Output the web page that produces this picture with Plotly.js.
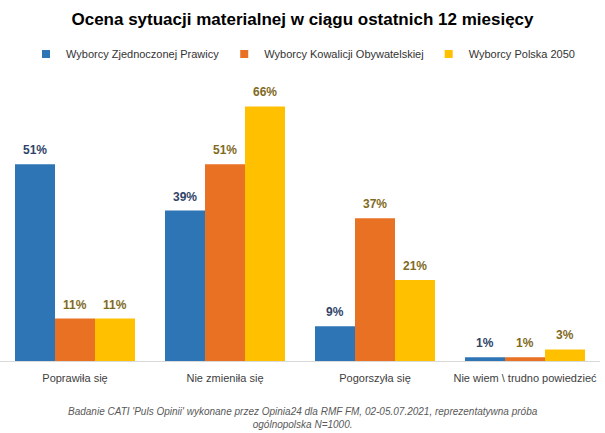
<!DOCTYPE html>
<html><head><meta charset="utf-8">
<script src="https://cdn.plot.ly/plotly-3.0.1.min.js"></script>
<style>html,body{margin:0;padding:0;background:#fff}#chart{width:605px;height:433px}</style>
</head><body><div id="chart"></div>
<script>
const categories = ['Poprawiła się', 'Nie zmieniła się', 'Pogorszyła się', 'Nie wiem \\ trudno powiedzieć'];
const seriesNames = ['Wyborcy Zjednoczonej Prawicy', 'Wyborcy Kowalicji Obywatelskiej', 'Wyborcy Polska 2050'];
const zp = [51, 39, 9, 1];
const ko = [11, 51, 37, 1];
const pl2050 = [11, 66, 21, 3];
const title = 'Ocena sytuacji materialnej w ciągu ostatnich 12 miesięcy';
const note = "Badanie CATI 'Puls Opinii' wykonane przez Opinia24 dla RMF FM, 02-05.07.2021, reprezentatywna próba<br>ogólnopolska N=1000.";

const colors = ['#2E75B6', '#E97123', '#FFC000'];
const labelColors = ['#2F4468', '#7F6A1E', '#7F6A1E'];
const series = [zp, ko, pl2050];
const font = 'Liberation Sans, Arial, sans-serif';

const traces = series.map((vals, i) => ({
  type: 'bar', name: seriesNames[i], x: categories, y: vals, showlegend: false,
  marker: {color: colors[i]}, hoverinfo: 'skip'
}));
series.forEach((vals, i) => {
  traces.push({
    type: 'scatter', mode: 'markers', name: seriesNames[i], x: [null], y: [null],
    marker: {symbol: 'square', size: 8, color: colors[i]}, showlegend: true, hoverinfo: 'skip'
  });
});

const annotations = [];
series.forEach((vals, i) => {
  vals.forEach((v, j) => {
    annotations.push({
      x: categories[j], y: v, xref: 'x', yref: 'y', text: v + '%',
      showarrow: false, yanchor: 'bottom', yshift: 5, xshift: (i - 1) * 40,
      font: {family: font, size: 12, color: labelColors[i], weight: 'bold'}
    });
  });
});
annotations.push({
  xref: 'paper', yref: 'paper', x: 0.505, y: -0.212, yanchor: 'middle',
  text: '<i>' + note + '</i>', showarrow: false, align: 'center',
  font: {family: font, size: 10, color: '#595959'}
});

const layout = {
  width: 605, height: 433,
  margin: {l: 0, r: 5, t: 91, b: 72},
  paper_bgcolor: '#fff', plot_bgcolor: '#fff',
  title: {text: '<b>' + title + '</b>', x: 0.5, xanchor: 'center', y: 1 - 19/433, yanchor: 'middle',
          font: {family: font, size: 17, color: '#000'}},
  barmode: 'group', bargap: 0.2, bargroupgap: 0,
  xaxis: {type: 'category', range: [-0.5, 3.5], showline: true, linecolor: '#D9D9D9', linewidth: 1,
          ticks: 'outside', ticklen: 7, tickcolor: 'rgba(0,0,0,0)',
          tickfont: {family: font, size: 11, color: '#404040'}, fixedrange: true},
  yaxis: {range: [0, 70], visible: false, showgrid: false, zeroline: false, fixedrange: true},
  legend: {orientation: 'h', x: 0.505, xanchor: 'center', y: 1.137, yanchor: 'middle',
           font: {family: font, size: 11, color: '#333333'}, itemwidth: 30, tracegroupgap: 0},
  showlegend: true,
  annotations: annotations
};
Plotly.newPlot('chart', traces, layout, {displayModeBar: false, staticPlot: true});
</script></body></html>
